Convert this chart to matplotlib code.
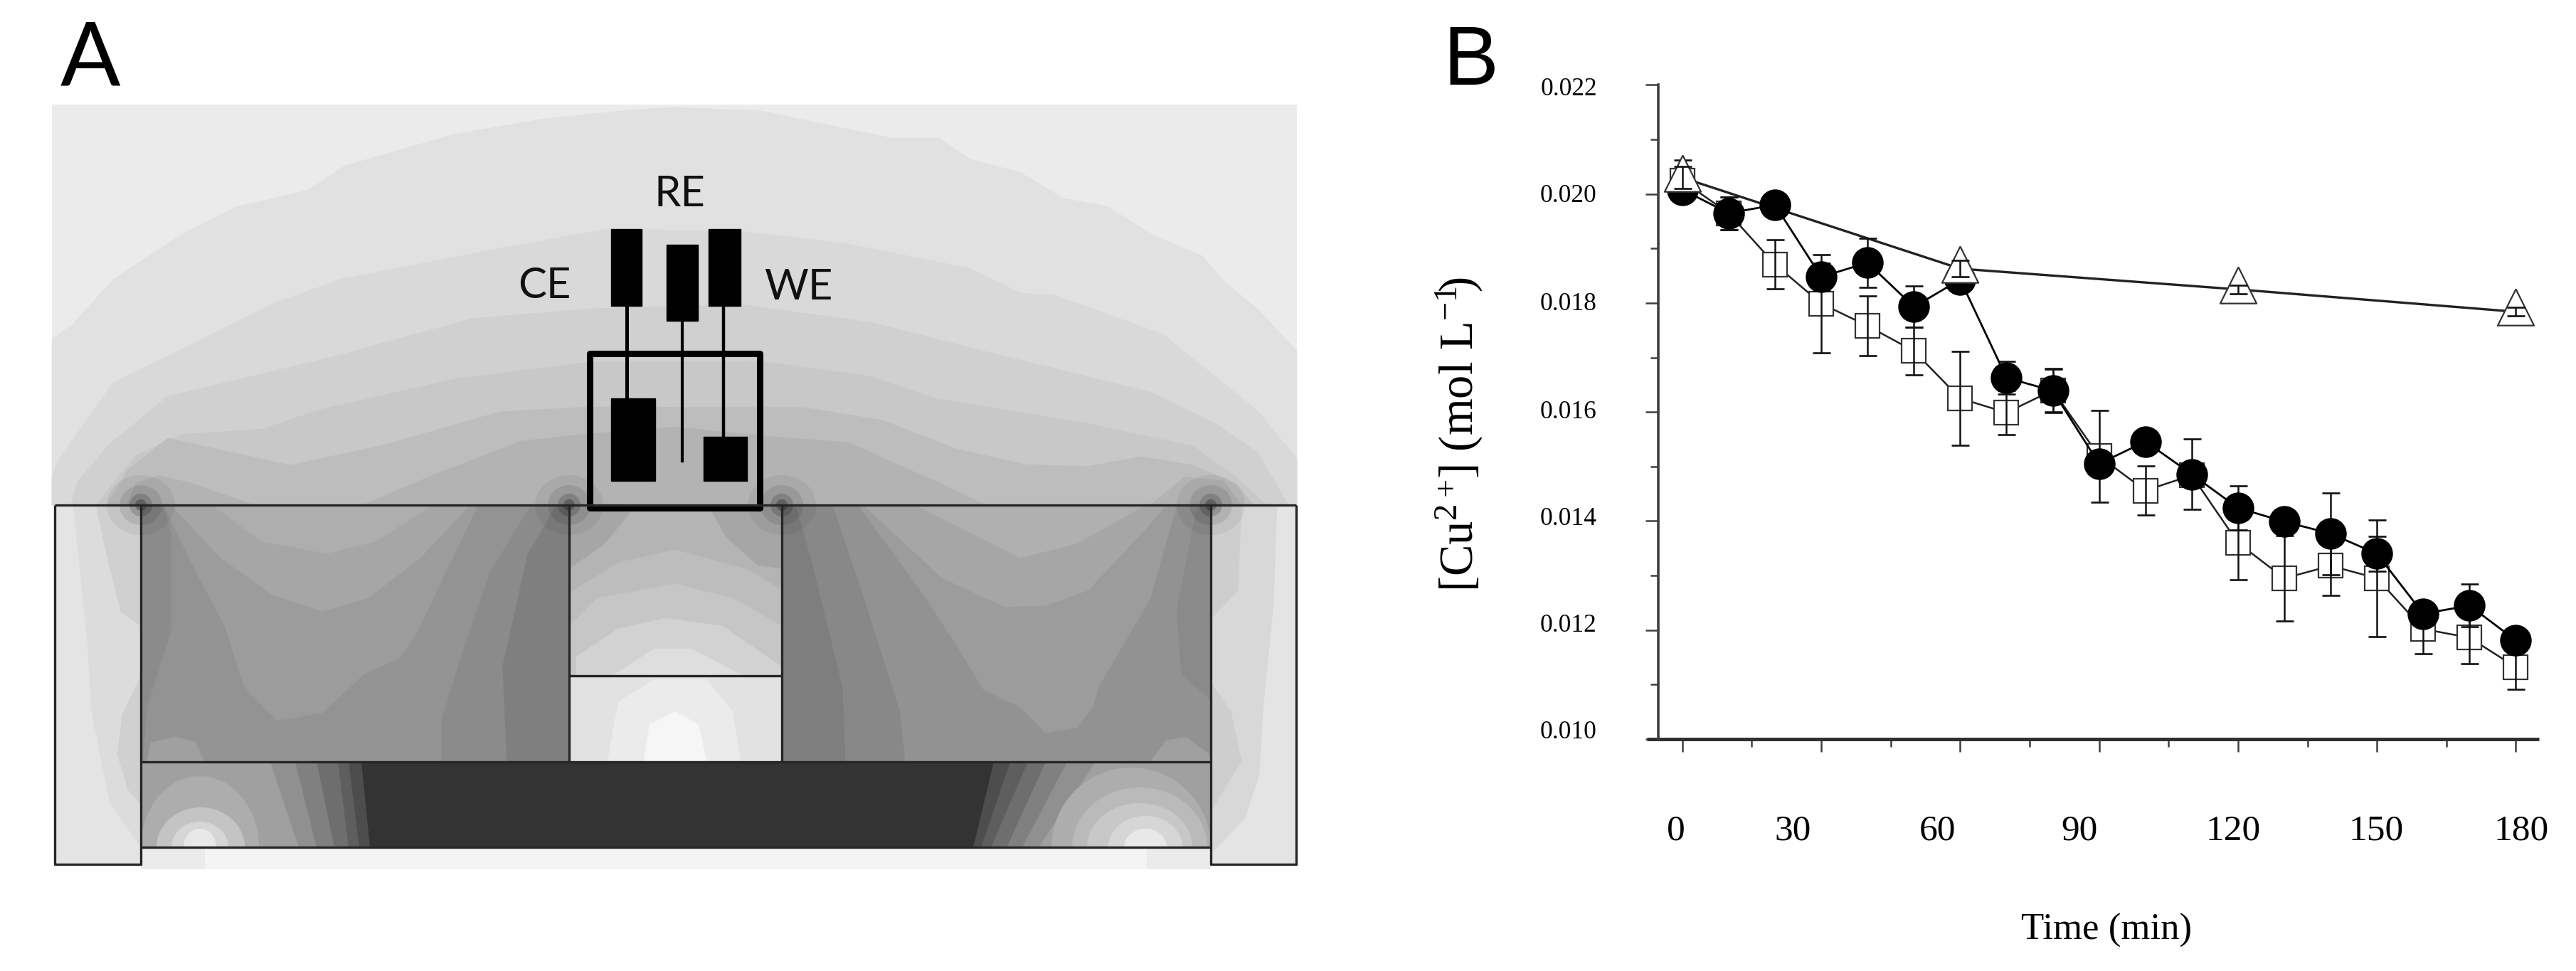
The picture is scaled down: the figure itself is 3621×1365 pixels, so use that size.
import matplotlib
matplotlib.use("Agg")
import matplotlib.pyplot as plt
from matplotlib.patches import Polygon, Rectangle, Ellipse

plt.rcParams['font.family'] = ['Liberation Serif', 'DejaVu Serif']
plt.rcParams['mathtext.fontset'] = 'custom'
plt.rcParams['mathtext.rm'] = 'Liberation Serif'
plt.rcParams['mathtext.default'] = 'rm'

# panel B data
time_min = [0, 10, 20, 30, 40, 50, 60, 70, 80, 90, 100, 110, 120, 130, 140, 150, 160, 170, 180]
circle_y = [0.02008, 0.01965, 0.01980, 0.01848, 0.01874, 0.01793, 0.01843, 0.01663, 0.01639, 0.01505,
            0.01546, 0.01486, 0.01424, 0.01399, 0.01377, 0.01340, 0.01230, 0.01245, 0.01181]
circle_err = [0.00020, 0.00030, 0.00010, 0.00025, 0.00045, 0.00038, 0.00020, 0.00030, 0.00040, 0.00020,
              0.00020, 0.00065, 0.00040, 0.00015, 0.00075, 0.00032, 0.00015, 0.00039, 0.00015]
square_y = [0.02024, 0.01965, 0.01871, 0.01799, 0.01758, 0.01712, 0.01625, 0.01599, 0.01640, 0.01519,
            0.01456, 0.01484, 0.01360, 0.01295, 0.01318, 0.01295, 0.01202, 0.01186, 0.01132]
square_err = [0.00038, 0.00030, 0.00045, 0.00090, 0.00055, 0.00044, 0.00086, 0.00040, 0.00040, 0.00084,
              0.00045, 0.00020, 0.00068, 0.00078, 0.00054, 0.00107, 0.00046, 0.00048, 0.00041]
tri_x = [0, 60, 120, 180]
tri_y = [0.02030, 0.01863, 0.01825, 0.01784]
tri_err = [0.00020, 0.00015, 0.00008, 0.00008]

x_labels = ['0', '30', '60', '90', '120', '150', '180']
x_label_px = [2356, 2520, 2723, 2923, 3139, 3340, 3544]
y_labels = ['0.022', '0.020', '0.018', '0.016', '0.014', '0.012', '0.010']
y_label_py = [125, 276, 427, 579, 730, 879, 1030]

# panel A: contour bands, (grey, outline) in image pixels
BOTTOM = 710
dome = [
    ('#e1e1e1', [(73, 477), (102, 456), (159, 393), (255, 330), (332, 291), (434, 267), (485, 233), (638, 189),
                 (765, 167), (893, 154), (950, 151), (1071, 156), (1132, 169), (1253, 194), (1320, 194), (1362, 223),
                 (1435, 243), (1495, 279), (1556, 290), (1623, 332), (1689, 359), (1720, 395), (1768, 435), (1823, 493)]),
    ('#d9d9d9', [(73, 670), (83, 645), (128, 582), (159, 538), (287, 475), (383, 427), (478, 393), (702, 349),
                 (855, 322), (1041, 325), (1192, 343), (1362, 377), (1435, 412), (1483, 415), (1635, 470),
                 (1708, 529), (1768, 578), (1823, 645)]),
    ('#d0d0d0', [(100, 710), (108, 679), (153, 625), (236, 557), (459, 504), (663, 448), (829, 434), (1041, 428),
                 (1223, 453), (1417, 502), (1617, 551), (1708, 595), (1768, 636), (1811, 710)]),
    ('#c8c8c8', [(135, 710), (140, 703), (191, 640), (255, 611), (370, 603), (446, 577), (638, 533), (829, 509),
                 (1071, 508), (1223, 529), (1314, 560), (1526, 595), (1677, 627), (1738, 671), (1780, 710)]),
    ('#bdbdbd', [(150, 710), (180, 660), (236, 616), (408, 654), (542, 625), (702, 579), (829, 572), (1132, 573),
                 (1241, 591), (1344, 631), (1441, 653), (1526, 656), (1605, 642), (1677, 654), (1738, 680), (1762, 710)]),
    ('#b3b3b3', [(510, 710), (606, 669), (733, 620), (816, 611), (950, 600), (1071, 613), (1192, 622), (1314, 676), (1385, 710)]),
    ('#b3b3b3', [(178, 710), (191, 679), (223, 669), (268, 679), (357, 710)]),
    ('#b3b3b3', [(1617, 710), (1665, 671), (1720, 676), (1744, 710)]),
]
left_room = [
    ('#7f7f7f', [(198, 710), (800, 710), (800, 1071), (198, 1071)]),
    ('#8b8b8b', [(198, 710), (781, 710), (741, 780), (706, 937), (712, 1071), (198, 1071)]),
    ('#939393', [(241, 750), (241, 887), (207, 994), (201, 1071), (620, 1071), (620, 1013), (649, 918), (689, 803), (746, 710), (230, 710)]),
    ('#9c9c9c', [(230, 710), (275, 803), (316, 880), (344, 968), (390, 1013), (453, 1002), (511, 948), (562, 925), (585, 891), (672, 710)]),
    ('#a6a6a6', [(241, 710), (310, 784), (385, 837), (453, 859), (517, 841), (591, 784), (660, 710)]),
    ('#aeaeae', [(299, 710), (367, 761), (459, 778), (528, 761), (608, 710)]),
    ('#a0a0a0', [(207, 1071), (212, 1044), (247, 1036), (275, 1044), (287, 1071)]),
]
right_room = [
    ('#929292', [(1099, 710), (1702, 710), (1702, 1071), (1099, 1071)]),
    ('#888888', [(1099, 710), (1170, 710), (1214, 841), (1265, 1001), (1272, 1071), (1099, 1071)]),
    ('#7e7e7e', [(1099, 710), (1118, 710), (1140, 787), (1184, 966), (1188, 1071), (1099, 1071)]),
    ('#9c9c9c', [(1206, 710), (1294, 830), (1346, 909), (1382, 969), (1434, 994), (1470, 1030), (1514, 1023), (1536, 994), (1544, 966), (1617, 841), (1654, 710)]),
    ('#a6a6a6', [(1214, 710), (1324, 812), (1412, 853), (1470, 851), (1529, 830), (1610, 744), (1639, 710)]),
    ('#b0b0b0', [(1287, 710), (1434, 784), (1514, 764), (1610, 710)]),
    ('#8a8a8a', [(1683, 710), (1654, 858), (1661, 948), (1702, 984), (1702, 710)]),
    ('#a0a0a0', [(1617, 1071), (1639, 1041), (1668, 1037), (1698, 1059), (1702, 1071)]),
]
centre_room = [
    ('#a6a6a6', [(800, 710), (1099, 710), (1099, 950), (800, 950)]),
    ('#b4b4b4', [(800, 800), (850, 765), (895, 710), (995, 710), (1020, 755), (1065, 795), (1099, 800), (1099, 950), (800, 950)]),
    ('#bdbdbd', [(800, 834), (869, 791), (949, 773), (1052, 801), (1099, 830), (1099, 950), (800, 950)]),
    ('#c6c6c6', [(800, 880), (839, 841), (949, 821), (1030, 841), (1099, 880), (1099, 950), (800, 950)]),
    ('#d2d2d2', [(810, 950), (810, 923), (869, 884), (935, 869), (1015, 880), (1099, 937), (1099, 950)]),
    ('#dedede', [(861, 950), (920, 912), (971, 912), (1045, 950)]),
    ('#e2e2e2', [(800, 950), (1099, 950), (1099, 1071), (800, 1071)]),
    ('#ebebeb', [(854, 1071), (869, 987), (920, 955), (993, 955), (1030, 1001), (1041, 1071)]),
    ('#f6f6f6', [(905, 1071), (913, 1019), (949, 1000), (982, 1019), (993, 1071)]),
]
walls = [
    ('#e4e4e4', [(77, 710), (198, 710), (198, 1215), (77, 1215)]),
    ('#dcdcdc', [(103, 710), (123, 900), (129, 1000), (155, 1130), (198, 1190), (198, 710)]),
    ('#d0d0d0', [(135, 710), (150, 780), (170, 860), (198, 880), (198, 710)]),
    ('#d0d0d0', [(198, 950), (172, 1005), (165, 1060), (180, 1110), (198, 1130)]),
    ('#e4e4e4', [(1702, 710), (1822, 710), (1822, 1215), (1702, 1215)]),
    ('#d8d8d8', [(1702, 710), (1795, 710), (1790, 850), (1775, 1000), (1770, 1090), (1750, 1150), (1702, 1200)]),
    ('#cecece', [(1702, 710), (1745, 710), (1740, 830), (1702, 870)]),
    ('#cecece', [(1702, 960), (1730, 1000), (1745, 1070), (1702, 1140)]),
]
# floor gradient: grey, x at bottom line, x at top line
floor_right = [('#4d4d4d', 1368, 1397), ('#5e5e5e', 1379, 1420), ('#6e6e6e', 1393, 1445),
               ('#808080', 1415, 1470), ('#909090', 1437, 1500), ('#a0a0a0', 1460, 1540)]
floor_left = [('#4d4d4d', 520, 508), ('#5e5e5e', 505, 490), ('#6e6e6e', 490, 475),
              ('#808080', 470, 445), ('#909090', 445, 415), ('#a0a0a0', 420, 380)]
# arches on the floor: grey, centre x, half width, height
arches = [('#adadad', 1590, 112, 112), ('#bababa', 1602, 95, 84), ('#c8c8c8', 1602, 74, 62),
          ('#d6d6d6', 1610, 52, 44), ('#e8e8e8', 1610, 30, 26),
          ('#adadad', 281, 83, 100), ('#c4c4c4', 282, 62, 56), ('#d6d6d6', 281, 40, 36), ('#e8e8e8', 281, 23, 26)]
corners = [(198, 710), (800, 710), (1099, 710), (1702, 710)]

fig = plt.figure(figsize=(36.21, 13.65), dpi=100)

# full figure axes in image pixels for panel A and the loose labels
bg = fig.add_axes([0, 0, 1, 1])
bg.set_xlim(0, 3621)
bg.set_ylim(1365, 0)
bg.axis('off')


def fill_bands(bands):
    for grey, pts in bands:
        bg.add_patch(Polygon(pts, closed=True, fc=grey, ec=grey, lw=0.5))


bg.add_patch(Rectangle((73, 147), 1750, 563, fc='#ebebeb', ec='none'))
for grey, pts in dome:
    pts = list(pts) + [(pts[-1][0], BOTTOM), (pts[0][0], BOTTOM)]
    bg.add_patch(Polygon(pts, closed=True, fc=grey, ec=grey, lw=0.5))
fill_bands(walls)
fill_bands(left_room)
fill_bands(right_room)
fill_bands(centre_room)

# floor and the strip under it
bg.add_patch(Rectangle((198, 1191), 1504, 31, fc='#f4f4f4', ec='none'))
bg.add_patch(Rectangle((198, 1191), 90, 31, fc='#ebebeb', ec='none'))
bg.add_patch(Rectangle((1612, 1191), 90, 31, fc='#ebebeb', ec='none'))
bg.add_patch(Rectangle((198, 1071), 1504, 120, fc='#333333', ec='none'))
for grey, xb, xt in floor_right:
    bg.add_patch(Polygon([(xb, 1191), (xt, 1071), (1702, 1071), (1702, 1191)], fc=grey, ec='none'))
for grey, xb, xt in floor_left:
    bg.add_patch(Polygon([(xb, 1191), (xt, 1071), (198, 1071), (198, 1191)], fc=grey, ec='none'))
clip = Rectangle((198, 1071), 1504, 120, transform=bg.transData)
for grey, cx, hw, h in arches:
    e = Ellipse((cx, 1191), 2 * hw, 2 * h, fc=grey, ec='none')
    bg.add_patch(e)
    e.set_clip_path(clip)

# darker spots round the corners
for cx, cy in corners:
    for rx, ry, a in [(48, 42, 0.05), (30, 28, 0.09), (16, 16, 0.16), (8, 8, 0.25)]:
        bg.add_patch(Ellipse((cx, cy), 2 * rx, 2 * ry, fc='black', ec='none', alpha=a))

# outline of the cell
ln = dict(color='#262626', lw=2.4, solid_capstyle='butt')
bg.plot([77, 1822], [710, 710], **ln)
bg.plot([198, 1702], [1071, 1071], **ln)
bg.plot([198, 1702], [1191, 1191], **ln)
bg.plot([800, 1099], [950, 950], **ln)
bg.plot([800, 800], [710, 1071], **ln)
bg.plot([1099, 1099], [710, 1071], **ln)
bg.plot([77, 77, 198, 198], [710, 1215, 1215, 710], **ln)
bg.plot([1702, 1702, 1822, 1822], [710, 1215, 1215, 710], **ln)

# electrodes
for x0, y0, w, h in [(859, 322, 43, 108), (937, 344, 44, 107), (996, 322, 45, 108), (859, 560, 62, 116), (989, 614, 61, 62)]:
    bg.add_patch(Rectangle((x0, y0), w, h, fc='black', ec='black', lw=1))
bg.plot([881, 881], [430, 560], color='black', lw=3.6)
bg.plot([959, 959], [451, 648], color='black', lw=3.0)
bg.plot([1017, 1017], [430, 615], color='black', lw=3.2)
bg.add_patch(Rectangle((829, 497), 239, 217, fc='none', ec='black', lw=6.5, joinstyle='round'))

sans = ['Lato', 'DejaVu Sans']
bg.text(955, 273, 'RE', family=sans, fontsize=43, ha='center', va='center', color='#111111')
bg.text(765, 402, 'CE', family=sans, fontsize=43, ha='center', va='center', color='#111111')
bg.text(1122, 404, 'WE', family=sans, fontsize=43, ha='center', va='center', color='#111111')
bg.text(127, 120, 'A', family=sans, fontsize=90, ha='center', va='baseline', color='black')
bg.text(2067, 119, 'B', family=['Liberation Sans'], fontsize=84, ha='center', va='baseline', color='black')

# panel B labels sit a little off their ticks, so they are placed by hand
for lab, px in zip(x_labels, x_label_px):
    bg.text(px, 1168, lab, fontsize=37, ha='center', va='center', color='black')
for lab, py in zip(y_labels, y_label_py):
    bg.text(2205, py, lab, fontsize=25.5, ha='center', va='center', color='black')
bg.text(2961, 1308, 'Time (min)', fontsize=38, ha='center', va='center', color='black')
bg.text(2051, 610, r'[Cu$^{2+}\!$] (mol L$^{-1}\!$)', fontsize=48, rotation=90, ha='center', va='center', color='black')

# panel B
ax = fig.add_axes([2331 / 3621, 1 - 1039 / 1365, (3569 - 2331) / 3621, (1039 - 119.5) / 1365])
ax.patch.set_alpha(0)
ax.set_xlim(-5.2, 185.0)
ax.set_ylim(0.010, 0.022)
ax.spines['top'].set_visible(False)
ax.spines['right'].set_visible(False)
ax.spines['left'].set_linewidth(2.6)
ax.spines['left'].set_color('#404040')
ax.spines['bottom'].set_visible(False)
ax.plot([2315, 3569], [1039, 1039], transform=bg.transData, color='#303030', lw=3.6, solid_capstyle='butt', clip_on=False)
ax.set_xticks(range(0, 181, 30))
ax.set_xticks(range(15, 181, 30), minor=True)
ax.set_yticks([0.010, 0.012, 0.014, 0.016, 0.018, 0.020, 0.022])
ax.set_yticks([0.011, 0.013, 0.015, 0.017, 0.019, 0.021], minor=True)
ax.tick_params(which='major', length=13, width=1.8, color='#404040', labelbottom=False, labelleft=False)
ax.tick_params(which='minor', length=8, width=1.8, color='#404040')

err = dict(fmt='none', ecolor='#111111', elinewidth=1.8, capsize=9, capthick=1.9)

ax.plot(time_min, square_y, color='#222222', lw=1.8, zorder=3)
ax.plot(time_min, square_y, ls='none', marker='s', ms=24, mfc='white', mec='#333333', mew=1.6, zorder=4)
ax.errorbar(time_min, square_y, yerr=square_err, zorder=5, **err)

ax.plot(tri_x, tri_y, color='#222222', lw=2.4, zorder=6)
ax.errorbar(time_min, circle_y, yerr=circle_err, zorder=6, **err)
ax.plot(time_min, circle_y, color='black', lw=2.0, marker='o', ms=31, mfc='black', mec='black', zorder=7)

tri_marker = [(0, 1.25), (1, -0.75), (-1, -0.75), (0, 1.25)]
ax.plot(tri_x, tri_y, ls='none', marker=tri_marker, ms=46, mfc='white', mec='#333333', mew=1.6, zorder=8)
ax.errorbar(tri_x, tri_y, yerr=tri_err, zorder=9, **err)

fig.savefig('out.png', dpi=100)
